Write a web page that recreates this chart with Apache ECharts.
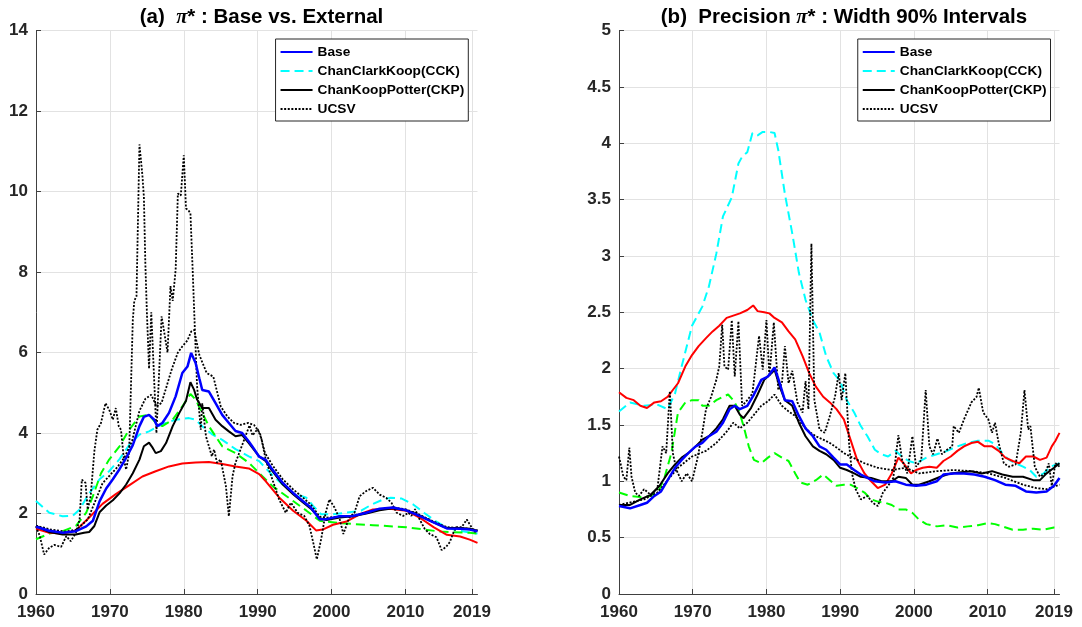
<!DOCTYPE html>
<html>
<head>
<meta charset="utf-8">
<script src="https://cdn.jsdelivr.net/npm/echarts@6/dist/echarts.min.js"></script>
<style>
  html, body { margin: 0; padding: 0; background: #fff; }
  #main { width: 1082px; height: 627px; }
</style>
</head>
<body>
<div id="main"></div>
<script>
// x ticks and y ticks
var yearTicks = [1960, 1970, 1980, 1990, 2000, 2010, 2019];
var yTicksA = [0, 2, 4, 6, 8, 10, 12, 14];
var yTicksB = [0, 0.5, 1, 1.5, 2, 2.5, 3, 3.5, 4, 4.5, 5];

// ---- panel (a): pi* level, [year, value]
var baseA = [[1960,1.67],[1961.8,1.57],[1963.6,1.52],[1965.4,1.56],[1966.8,1.68],[1967.7,1.82],[1968.6,2.3],[1969.5,2.62],[1970.4,2.85],[1971.3,3.1],[1972.2,3.38],[1973.1,3.7],[1974,4.17],[1974.6,4.4],[1975.3,4.45],[1976,4.33],[1976.4,4.17],[1977.1,4.25],[1978,4.5],[1978.9,4.91],[1979.8,5.49],[1980.5,5.65],[1981,5.99],[1981.6,5.74],[1982.1,5.36],[1982.5,5.07],[1983.4,5.03],[1984.3,4.74],[1985.2,4.45],[1986.1,4.25],[1987,4.05],[1987.9,4.0],[1988.8,3.79],[1989.3,3.66],[1990.2,3.41],[1991.1,3.33],[1992,3.09],[1993.4,2.76],[1994.8,2.51],[1996.1,2.31],[1997.2,2.15],[1998.4,1.86],[1999.3,1.86],[2001.1,1.93],[2002.9,1.94],[2004.7,2.02],[2006.5,2.12],[2008.3,2.15],[2010.1,2.08],[2011.9,1.94],[2013.8,1.78],[2015.6,1.63],[2017.4,1.62],[2018.7,1.6],[2019.75,1.56]];
var cckA = [[1960,2.31],[1961.8,2.02],[1963.6,1.93],[1965,1.95],[1965.9,2.1],[1967.2,2.5],[1968.6,2.85],[1969.9,3.05],[1971.3,3.35],[1972.6,3.7],[1974,3.96],[1975.3,4.04],[1977.1,4.22],[1978.9,4.33],[1980.7,4.37],[1981.6,4.33],[1982.5,4.17],[1983.9,3.96],[1985.2,3.83],[1987,3.6],[1988.8,3.42],[1990.2,3.3],[1992,2.95],[1993.5,2.7],[1994.8,2.51],[1996.6,2.39],[1997.5,2.19],[1998.6,1.98],[2000,1.98],[2002,2.02],[2004,2.07],[2005.5,2.23],[2007,2.35],[2008,2.39],[2009.5,2.37],[2011,2.23],[2012.5,2.02],[2014,1.82],[2015.5,1.66],[2017,1.58],[2018.7,1.53],[2019.75,1.5]];
var ckpA = [[1960,1.69],[1961.8,1.54],[1963.6,1.48],[1965.4,1.48],[1966.5,1.52],[1967.2,1.54],[1967.9,1.69],[1968.6,2.03],[1969.5,2.2],[1970.4,2.33],[1971.3,2.5],[1972.2,2.72],[1973.1,3.0],[1974,3.34],[1974.6,3.67],[1975.3,3.76],[1975.8,3.63],[1976.2,3.5],[1976.9,3.55],[1977.6,3.75],[1978.5,4.17],[1979.4,4.5],[1980.3,4.8],[1980.9,5.26],[1981.4,5.07],[1981.8,4.83],[1982.5,4.62],[1983.4,4.62],[1984.3,4.33],[1985.2,4.17],[1986.1,4.04],[1987,3.92],[1987.9,3.95],[1988.8,3.75],[1990.2,3.42],[1991.1,3.3],[1992,3.05],[1993.4,2.72],[1994.8,2.48],[1996.1,2.28],[1997.2,2.12],[1998.4,1.88],[1999.3,1.84],[2001.1,1.9],[2002.9,1.93],[2004.7,2.0],[2006.5,2.08],[2008.3,2.13],[2010.1,2.08],[2011.9,1.95],[2013.8,1.78],[2015.6,1.64],[2017.4,1.64],[2018.7,1.62],[2019.75,1.57]];
var ucsvA = [[1960,1.68],[1960.5,1.45],[1961.1,0.98],[1961.8,1.15],[1962.5,1.22],[1963.4,1.17],[1964.1,1.44],[1964.7,1.31],[1965.4,1.52],[1965.9,1.85],[1966.2,2.84],[1966.7,2.76],[1967,2.1],[1967.4,2.43],[1967.9,3.55],[1968.3,4.08],[1968.8,4.25],[1969.4,4.74],[1969.9,4.58],[1970.4,4.33],[1970.8,4.62],[1971.2,4.17],[1971.5,4.08],[1971.9,3.34],[1972.2,3.09],[1972.6,3.5],[1973.1,6.8],[1973.3,7.28],[1973.6,7.4],[1974,11.17],[1974.4,10.4],[1974.6,9.87],[1974.8,8.2],[1975,7.03],[1975.3,5.6],[1975.6,7.0],[1976.3,4.0],[1977,6.9],[1977.8,6.0],[1978.2,7.65],[1978.5,7.28],[1978.9,8.06],[1979.2,9.95],[1979.6,9.9],[1980,10.9],[1980.3,9.58],[1980.6,9.54],[1980.9,9.46],[1981.2,8.06],[1981.5,6.58],[1981.8,5.16],[1982.3,4.08],[1982.5,4.74],[1983,3.92],[1983.4,3.67],[1983.8,3.42],[1984.1,3.59],[1984.5,3.26],[1985,3.34],[1985.7,2.68],[1986.1,1.93],[1986.6,2.93],[1987,3.26],[1987.7,3.6],[1988.9,4.19],[1989.3,3.94],[1990,4.1],[1990.5,3.86],[1991.1,3.33],[1992,2.84],[1992.9,2.35],[1993.8,2.02],[1994.5,2.27],[1995.4,2.02],[1996.3,1.94],[1997,1.7],[1997.6,1.21],[1998,0.86],[1998.6,1.37],[1999.2,2.02],[1999.7,2.35],[2000.4,2.15],[2001.1,1.86],[2001.6,1.49],[2002,1.7],[2002.4,1.9],[2003.1,2.02],[2003.8,2.43],[2004.7,2.56],[2005.6,2.64],[2006.5,2.47],[2007.4,2.39],[2008.1,2.27],[2008.8,2.02],[2009.7,1.94],[2010.4,2.02],[2010.8,1.94],[2011.3,2.11],[2011.9,1.86],[2012.6,1.62],[2013.3,1.49],[2014.2,1.41],[2014.9,1.09],[2015.5,1.17],[2016,1.29],[2016.5,1.53],[2016.9,1.66],[2017.6,1.66],[2018.3,1.85],[2018.8,1.7],[2019.3,1.55],[2019.75,1.55]];
var upperA = [[1960,1.7],[1962,1.6],[1964,1.55],[1965.5,1.6],[1967,1.85],[1968,2.3],[1969,2.75],[1970,2.95],[1971,3.15],[1972,3.4],[1973,3.8],[1974,4.55],[1974.8,4.85],[1975.6,4.95],[1976.3,4.66],[1977,4.75],[1978.4,5.6],[1979.2,6.0],[1979.8,6.15],[1980.5,6.3],[1981,6.52],[1981.4,6.56],[1982.1,5.94],[1983.1,5.49],[1984,5.4],[1985,4.66],[1985.9,4.41],[1986.8,4.25],[1987.7,4.2],[1988.7,4.25],[1989.5,4.2],[1990.3,4.0],[1991,3.5],[1992,3.2],[1993.4,2.85],[1994.8,2.6],[1996.1,2.4],[1997.2,2.22],[1998.4,1.92],[1999.5,1.9],[2001,1.92],[2003,1.95],[2004.7,2.03],[2006.5,2.1],[2008.3,2.15],[2010.1,2.1],[2011.9,1.97],[2013.8,1.8],[2015.6,1.66],[2017.4,1.64],[2018.7,1.62],[2019.75,1.58]];
var greenA = [[1960,1.36],[1961.8,1.5],[1963.6,1.56],[1965.4,1.69],[1966.8,2.02],[1967.7,2.43],[1968.8,3.0],[1969.9,3.34],[1971.3,3.67],[1972.6,4.08],[1974,4.41],[1975.3,4.45],[1976.2,4.25],[1977.1,4.17],[1978.5,4.33],[1979.8,4.66],[1980.9,4.97],[1981.6,4.83],[1982.5,4.5],[1983.4,4.17],[1984.3,3.92],[1985.2,3.67],[1987,3.5],[1988.8,3.26],[1989.3,3.17],[1992,2.68],[1994.8,2.31],[1996.6,2.07],[1998.4,1.82],[2001.1,1.76],[2005.6,1.71],[2010.1,1.66],[2014.7,1.55],[2018.7,1.52],[2019.75,1.5]];
var redA = [[1960,1.62],[1961.8,1.52],[1963.6,1.5],[1965.4,1.58],[1967.2,1.9],[1969,2.24],[1970.8,2.48],[1972.6,2.7],[1974.4,2.92],[1976.2,3.05],[1978,3.17],[1979.8,3.24],[1981.6,3.27],[1983.4,3.28],[1985.2,3.23],[1987,3.17],[1988.8,3.12],[1990.2,2.98],[1991.1,2.8],[1992.9,2.4],[1994.8,2.07],[1996.6,1.82],[1997.9,1.58],[1998.8,1.6],[2000.2,1.72],[2002,1.8],[2003.8,1.98],[2005.6,2.1],[2007.9,2.12],[2010.1,2.07],[2011.9,1.9],[2013.8,1.66],[2015.6,1.47],[2017.4,1.43],[2018.7,1.35],[2019.75,1.27]];

// ---- panel (b): width of 90% intervals
var baseB = [[1960,0.78],[1961.5,0.76],[1962.9,0.79],[1963.8,0.81],[1964.8,0.87],[1965.7,0.91],[1966.6,1.01],[1967.6,1.12],[1968.5,1.19],[1969.4,1.25],[1970.4,1.31],[1971.3,1.34],[1972.2,1.4],[1973.2,1.44],[1974.1,1.52],[1975,1.64],[1975.7,1.67],[1976.4,1.64],[1977.4,1.67],[1978.3,1.77],[1979.3,1.9],[1980.2,1.93],[1981.1,2.01],[1981.8,1.87],[1982.5,1.72],[1983.5,1.71],[1984.4,1.58],[1985.3,1.47],[1986.3,1.4],[1987.2,1.31],[1988.1,1.28],[1989.1,1.21],[1990,1.15],[1990.9,1.15],[1991.9,1.1],[1992.8,1.06],[1993.7,1.03],[1994.7,1.0],[1996.1,0.99],[1997.5,1.0],[1998.9,0.97],[2000.3,0.96],[2001.7,0.97],[2003.1,1.0],[2004,1.06],[2005.4,1.07],[2006.8,1.07],[2008.2,1.06],[2009.6,1.04],[2011,1.01],[2012.4,0.97],[2013.8,0.96],[2015.2,0.91],[2016.6,0.9],[2018,0.91],[2019,0.96],[2019.75,1.03]];
var cckB = [[1960,1.62],[1961.5,1.7],[1963.4,1.67],[1965.2,1.68],[1966.6,1.64],[1967.6,1.78],[1968.5,2.02],[1969.9,2.38],[1971.3,2.55],[1972.2,2.73],[1973.2,3.02],[1974.1,3.35],[1975.3,3.52],[1976.2,3.82],[1976.7,3.88],[1977.4,3.92],[1978.1,4.09],[1978.8,4.07],[1979.5,4.1],[1980.4,4.1],[1981.1,4.09],[1981.6,3.94],[1982.5,3.55],[1983.5,3.2],[1984.4,2.85],[1985.3,2.61],[1986.3,2.43],[1987.2,2.32],[1988.1,2.11],[1989.1,1.96],[1990,1.89],[1990.9,1.72],[1991.9,1.61],[1992.8,1.49],[1993.7,1.4],[1994.7,1.28],[1995.6,1.24],[1996.5,1.22],[1997.5,1.27],[1998.4,1.22],[1999.3,1.18],[2000.3,1.16],[2001.7,1.21],[2003.1,1.24],[2004.5,1.27],[2005.9,1.31],[2007.3,1.34],[2008.7,1.36],[2010.1,1.36],[2011,1.33],[2012,1.25],[2012.9,1.19],[2013.8,1.16],[2014.8,1.13],[2015.7,1.1],[2016.6,1.04],[2017.6,1.07],[2018.5,1.13],[2019.75,1.16]];
var ckpB = [[1960,0.79],[1961.5,0.79],[1962.9,0.84],[1964.3,0.88],[1965.5,0.96],[1966.6,1.07],[1967.6,1.15],[1968.5,1.21],[1969.4,1.25],[1970.4,1.31],[1971.3,1.37],[1972.2,1.4],[1973.2,1.47],[1974.1,1.55],[1975,1.67],[1975.7,1.67],[1976.4,1.59],[1976.9,1.56],[1977.9,1.65],[1978.8,1.77],[1979.7,1.9],[1980.7,1.96],[1981.1,1.99],[1981.8,1.84],[1982.5,1.72],[1983.5,1.67],[1984.4,1.52],[1985.3,1.4],[1986.3,1.31],[1987.2,1.27],[1988.1,1.24],[1989.1,1.19],[1990,1.12],[1990.9,1.1],[1991.9,1.07],[1992.8,1.04],[1994.2,1.03],[1995.6,1.0],[1997,1.0],[1997.9,1.04],[1998.9,1.03],[1999.8,0.97],[2000.7,0.97],[2002.1,1.0],[2003.6,1.04],[2005,1.07],[2006.4,1.08],[2007.8,1.09],[2009.2,1.07],[2010.6,1.09],[2012,1.06],[2013.4,1.04],[2014.8,1.04],[2016.2,1.01],[2017.1,1.01],[2018,1.07],[2019,1.12],[2019.75,1.16]];
var ucsvB = [[1960,1.22],[1960.6,1.04],[1961,1.01],[1961.4,1.3],[1961.7,1.04],[1962.2,0.9],[1962.7,0.87],[1963.4,0.93],[1964.3,0.88],[1965.2,0.93],[1965.9,1.31],[1966.4,1.25],[1966.9,1.8],[1967.3,1.25],[1967.8,1.1],[1968.5,1.0],[1969.2,1.07],[1969.9,1.0],[1970.6,1.19],[1971.3,1.43],[1971.8,1.64],[1972.5,1.75],[1973.2,1.9],[1973.6,2.02],[1974,2.39],[1974.3,2.02],[1974.8,1.99],[1975.3,2.43],[1975.7,1.93],[1976.2,2.42],[1976.7,1.67],[1977.4,1.72],[1978.1,1.78],[1979,2.29],[1979.5,1.99],[1980,2.43],[1980.4,1.93],[1981,2.41],[1981.6,1.81],[1982.1,1.87],[1982.5,2.2],[1983,1.87],[1983.5,1.98],[1984.2,1.7],[1984.9,1.61],[1985.3,1.89],[1985.7,1.64],[1986.1,3.11],[1986.5,1.72],[1987.2,1.46],[1987.9,1.43],[1988.6,1.58],[1989.3,1.75],[1989.8,1.96],[1990.2,1.72],[1990.7,1.96],[1991.2,1.34],[1991.6,1.07],[1992.1,0.93],[1992.8,0.84],[1993.7,0.87],[1994.4,0.81],[1995.1,0.78],[1995.8,0.9],[1996.5,0.96],[1997.2,1.03],[1997.9,1.41],[1998.4,1.19],[1999.1,1.07],[1999.8,1.4],[2000.3,1.13],[2001,1.19],[2001.6,1.81],[2002.1,1.31],[2002.6,1.24],[2003.2,1.38],[2003.8,1.24],[2004.5,1.28],[2005.2,1.31],[2005.4,1.49],[2006.1,1.43],[2006.8,1.55],[2007.8,1.7],[2008.5,1.75],[2008.8,1.83],[2009.4,1.61],[2010.1,1.55],[2010.6,1.43],[2011,1.52],[2011.5,1.34],[2012.2,1.16],[2012.9,1.13],[2013.8,1.15],[2014.5,1.43],[2015,1.81],[2015.5,1.46],[2015.8,1.49],[2016.4,1.13],[2017.1,1.04],[2017.8,1.07],[2018.3,1.16],[2018.7,0.96],[2019.2,1.16],[2019.75,1.13]];
var lowerB = [[1960,0.79],[1963.4,0.84],[1965.2,0.9],[1968,1.12],[1969.9,1.22],[1971.8,1.27],[1973.2,1.34],[1974.6,1.44],[1975.5,1.52],[1976.4,1.47],[1977.4,1.52],[1978.3,1.59],[1979.3,1.67],[1980.2,1.71],[1981.1,1.77],[1982.1,1.67],[1983,1.62],[1983.9,1.58],[1984.9,1.5],[1985.8,1.44],[1986.7,1.4],[1987.7,1.37],[1988.6,1.34],[1989.5,1.3],[1990.5,1.25],[1991.4,1.22],[1993.3,1.16],[1995.1,1.12],[1997,1.1],[1998.9,1.12],[2000.7,1.07],[2003.1,1.09],[2005.4,1.1],[2007.8,1.09],[2010.1,1.07],[2012.4,1.03],[2014.8,0.97],[2016.6,0.94],[2018,0.93],[2019.75,0.97]];
var greenB = [[1960,0.9],[1961.5,0.87],[1962.9,0.86],[1964.3,0.87],[1965.5,0.93],[1966.2,1.04],[1967.1,1.25],[1968,1.61],[1969,1.7],[1969.9,1.72],[1970.8,1.72],[1971.3,1.67],[1972.2,1.67],[1973.2,1.72],[1974.1,1.75],[1974.8,1.77],[1975.5,1.72],[1976.2,1.64],[1976.9,1.49],[1977.6,1.31],[1978.3,1.19],[1979.3,1.16],[1980.2,1.21],[1981.1,1.25],[1982.1,1.21],[1983,1.18],[1983.9,1.07],[1984.6,0.99],[1985.6,0.97],[1986.7,1.01],[1987.7,1.06],[1988.6,1.01],[1989.5,0.96],[1990.5,0.97],[1991.4,0.97],[1992.3,0.94],[1993.3,0.9],[1994.2,0.84],[1995.1,0.82],[1996.1,0.81],[1997,0.79],[1997.9,0.75],[1998.9,0.75],[1999.8,0.72],[2000.7,0.66],[2001.7,0.62],[2003.1,0.6],[2004.5,0.61],[2005.9,0.59],[2007.3,0.6],[2008.7,0.61],[2010.1,0.63],[2011,0.62],[2012,0.6],[2013.4,0.57],[2014.8,0.57],[2016.2,0.58],[2017.6,0.57],[2019,0.59],[2019.75,0.59]];
var redB = [[1960,1.79],[1961,1.74],[1962,1.72],[1962.9,1.67],[1963.8,1.65],[1964.8,1.7],[1965.7,1.71],[1966.6,1.75],[1967.3,1.81],[1968,1.87],[1969,2.02],[1969.9,2.12],[1970.8,2.2],[1971.8,2.27],[1972.7,2.33],[1973.6,2.38],[1974.6,2.45],[1975.5,2.47],[1976.4,2.49],[1977.4,2.52],[1978.2,2.56],[1978.8,2.51],[1979.7,2.5],[1980.4,2.49],[1981.1,2.45],[1982.1,2.41],[1983,2.33],[1983.9,2.26],[1984.9,2.11],[1985.8,1.96],[1986.7,1.84],[1987.7,1.75],[1988.6,1.7],[1989.5,1.64],[1990.5,1.55],[1991.4,1.37],[1992.3,1.19],[1993.3,1.07],[1994.2,1.0],[1995.1,0.94],[1996.1,0.97],[1997,1.07],[1997.9,1.21],[1998.6,1.16],[1999.6,1.07],[2000.3,1.1],[2001.2,1.12],[2002.1,1.13],[2003.1,1.12],[2004,1.18],[2005,1.22],[2005.9,1.27],[2006.8,1.31],[2007.8,1.34],[2008.7,1.35],[2009.6,1.31],[2010.6,1.31],[2011.5,1.27],[2012.4,1.21],[2013.4,1.18],[2014.3,1.16],[2015.2,1.22],[2016.2,1.22],[2017.1,1.19],[2018,1.21],[2018.7,1.31],[2019.2,1.36],[2019.75,1.43]];

var legendNames = ['Base', 'ChanClarkKoop(CCK)', 'ChanKoopPotter(CKP)', 'UCSV'];

var font = 'Liberation Sans, Arial, sans-serif';
var axisColor = '#404040';
var gridColor = '#e2e2e2';

function xAxisFor(gridIndex) {
    return {
        type: 'value',
        gridIndex: gridIndex,
        min: 1960,
        max: 2019.75,
        axisLine: { lineStyle: { color: axisColor, width: 1 } },
        axisTick: { inside: true, length: 5, customValues: yearTicks, lineStyle: { color: axisColor } },
        axisLabel: {
            customValues: yearTicks,
            formatter: function (v) { return String(v); },
            margin: 10,
            color: '#262626',
            fontSize: 17,
            fontWeight: 'bold',
            fontFamily: font
        },
        splitLine: { show: true, lineStyle: { color: gridColor, width: 1 } }
    };
}

function yAxisFor(gridIndex, ticks, step) {
    return {
        type: 'value',
        gridIndex: gridIndex,
        min: ticks[0],
        max: ticks[ticks.length - 1],
        interval: step,
        axisLine: { show: true, lineStyle: { color: axisColor, width: 1 } },
        axisTick: { show: true, inside: true, length: 5, lineStyle: { color: axisColor } },
        axisLabel: {
            margin: 8,
            color: '#262626',
            fontSize: 17,
            fontWeight: 'bold',
            fontFamily: font
        },
        splitLine: { show: true, lineStyle: { color: gridColor, width: 1 } }
    };
}

function line(name, data, idx, color, width, type, z) {
    return {
        name: name,
        type: 'line',
        xAxisIndex: idx,
        yAxisIndex: idx,
        data: data,
        symbol: 'none',
        showSymbol: false,
        z: z,
        lineStyle: { color: color, width: width, type: type },
        itemStyle: { color: color }
    };
}

var dotted = [2, 1.6];
var dashed = [9, 5];

var series = [];
[[0, cckA, greenA, redA, upperA, ucsvA, ckpA, baseA], [1, cckB, greenB, redB, lowerB, ucsvB, ckpB, baseB]].forEach(function (p) {
    var i = p[0];
    series.push(line('ChanClarkKoop(CCK)', p[1], i, '#00ffff', 2, dashed, 2));
    series.push(line('green' + i, p[2], i, '#00ff00', 2, dashed, 3));
    series.push(line('red' + i, p[3], i, '#ff0000', 2, 'solid', 4));
    series.push(line('band' + i, p[4], i, '#000000', 1.8, dotted, 5));
    series.push(line('UCSV', p[5], i, '#000000', 1.8, dotted, 6));
    series.push(line('ChanKoopPotter(CKP)', p[6], i, '#000000', 2, 'solid', 7));
    series.push(line('Base', p[7], i, '#0000ff', 2.5, 'solid', 8));
});

function legendAt(right) {
    return {
        data: legendNames,
        orient: 'vertical',
        right: right,
        top: 39,
        padding: [6, 4, 5, 4],
        itemWidth: 32,
        itemHeight: 14,
        itemGap: 5,
        selectedMode: false,
        backgroundColor: '#ffffff',
        borderColor: '#262626',
        borderWidth: 1,
        borderRadius: 0,
        itemStyle: { opacity: 0 },
        textStyle: { color: '#000', fontSize: 13.7, lineHeight: 14, fontWeight: 'bold', fontFamily: font }
    };
}

function titleAt(x, pre, post) {
    return {
        text: '{t|' + pre + '}{p|π}{t|' + post + '}',
        left: x,
        top: 2,
        textAlign: 'center',
        textStyle: {
            rich: {
                t: { fontSize: 20.5, fontWeight: 'bold', fontFamily: font, color: '#000' },
                p: { fontSize: 20.5, fontStyle: 'italic', fontFamily: 'Liberation Serif, Times New Roman, serif', color: '#000' }
            }
        }
    };
}

var myChart = echarts.init(document.getElementById('main'), null, { renderer: 'canvas' });

var option = {
    animation: false,
    backgroundColor: '#ffffff',
    title: [
        titleAt(256.5, '(a)  ', '* : Base vs. External'),
        titleAt(839, '(b)  Precision ', '* : Width 90% Intervals')
    ],
    legend: [legendAt(613.7), legendAt(31.5)],
    grid: [
        { left: 36, top: 30.5, width: 441.5, height: 563.5 },
        { left: 619, top: 30.5, width: 440.5, height: 563.5 }
    ],
    xAxis: [xAxisFor(0), xAxisFor(1)],
    yAxis: [yAxisFor(0, yTicksA, 2), yAxisFor(1, yTicksB, 0.5)],
    series: series
};

myChart.setOption(option);
</script>
</body>
</html>
